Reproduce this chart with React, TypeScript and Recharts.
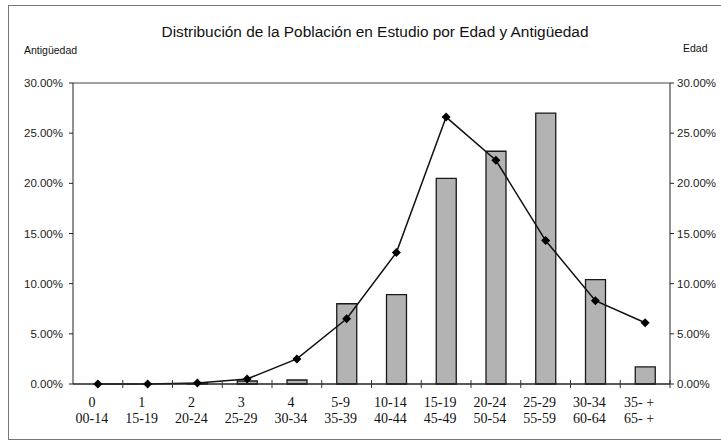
import React from "react";
import {
  ComposedChart,
  Bar,
  Line,
  XAxis,
  YAxis,
  ReferenceLine,
} from "recharts";

const ANTIGUEDAD_LABELS = ["0", "1", "2", "3", "4", "5-9", "10-14", "15-19", "20-24", "25-29", "30-34", "35- +"];
const EDAD_LABELS = ["00-14", "15-19", "20-24", "25-29", "30-34", "35-39", "40-44", "45-49", "50-54", "55-59", "60-64", "65- +"];
const ANTIGUEDAD_PCT = [0, 0, 0.05, 0.3, 0.4, 8.0, 8.9, 20.5, 23.2, 27.0, 10.4, 1.7];
const EDAD_PCT = [0, 0, 0.1, 0.5, 2.5, 6.5, 13.1, 26.6, 22.3, 14.3, 8.3, 6.1];
const Y_TICKS = [0, 5, 10, 15, 20, 25, 30];

const data = ANTIGUEDAD_LABELS.map((a, i) => ({
  key: `${a}|${EDAD_LABELS[i]}`,
  antiguedad: ANTIGUEDAD_PCT[i],
  edad: EDAD_PCT[i],
}));

const fmt = (v: number) => `${v.toFixed(2)}%`;

const Diamond = (props: any) => {
  const { cx, cy } = props;
  if (cx == null || cy == null) return null;
  const s = 4.5;
  return (
    <polygon
      points={`${cx},${cy - s} ${cx + s},${cy} ${cx},${cy + s} ${cx - s},${cy}`}
      fill="#000"
    />
  );
};

const CatTick = (props: any) => {
  const { x, y, payload } = props;
  const [top, bottom] = String(payload.value).split("|");
  const half = payload.offset ?? 25;
  return (
    <g>
      <line x1={x + half} x2={x + half} y1={y - 12} y2={y - 4} stroke="#333" strokeWidth={1} />
      <text
        x={x - 6}
        y={y + 15}
        textAnchor="middle"
        fontFamily="'Liberation Serif', serif"
        fontSize={14}
        fill="#111"
      >
        <tspan x={x - 6} dy={0}>{top}</tspan>
        <tspan x={x - 6} dy={16}>{bottom}</tspan>
      </text>
    </g>
  );
};

const tickStyle = { fontFamily: "'Liberation Sans', Arial, sans-serif", fontSize: 11.5, fill: "#222" };
const labelStyle: React.CSSProperties = {
  position: "absolute",
  top: 44,
  fontFamily: "'Liberation Sans', Arial, sans-serif",
  fontSize: 10.5,
  color: "#111",
};

export default function App() {
  return (
    <div style={{ position: "absolute", left: 0, top: 0, width: 721, height: 442, background: "#fff" }}>
      <div
        style={{
          position: "absolute",
          left: 8,
          top: 5,
          width: 720,
          height: 435,
          border: "1px solid #777",
          borderRight: "none",
          boxSizing: "border-box",
        }}
      />
      <div
        style={{
          position: "absolute",
          left: 0,
          width: 750,
          top: 23,
          textAlign: "center",
          fontFamily: "'Liberation Sans', Arial, sans-serif",
          fontSize: 15.4,
          color: "#111",
        }}
      >
        Distribución de la Población en Estudio por Edad y Antigüedad
      </div>
      <div style={{ ...labelStyle, left: 24 }}>Antigüedad</div>
      <div style={{ ...labelStyle, left: 683, top: 42 }}>Edad</div>
      <div style={{ position: "absolute", left: 0, top: 0 }}>
        <ComposedChart
          width={721}
          height={442}
          data={data}
          margin={{ top: 83, right: 0, bottom: 18, left: 0 }}
          barCategoryGap={0}
        >
          <XAxis
            dataKey="key"
            xAxisId="x"
            interval={0}
            tickLine={false}
            axisLine={{ stroke: "#222", strokeWidth: 1.5 }}
            tick={<CatTick />}
            height={40}
          />
          <YAxis
            yAxisId="left"
            orientation="left"
            width={73}
            domain={[0, 30]}
            ticks={Y_TICKS}
            tickFormatter={fmt}
            tick={tickStyle}
            tickSize={4}
            tickMargin={6}
            axisLine={{ stroke: "#222" }}
            tickLine={{ stroke: "#222" }}
          />
          <YAxis
            yAxisId="right"
            orientation="right"
            width={51}
            domain={[0, 30]}
            ticks={Y_TICKS}
            tickFormatter={fmt}
            tick={tickStyle}
            tickSize={4}
            tickMargin={3}
            axisLine={{ stroke: "#222" }}
            tickLine={{ stroke: "#222" }}
          />
          <ReferenceLine yAxisId="left" xAxisId="x" y={30} stroke="#444" strokeWidth={1} />
          <Bar
            xAxisId="x"
            yAxisId="left"
            dataKey="antiguedad"
            barSize={20}
            fill="#b3b3b3"
            stroke="#1a1a1a"
            strokeWidth={1.3}
            isAnimationActive={false}
          />
          <Line
            xAxisId="x"
            yAxisId="right"
            dataKey="edad"
            type="linear"
            stroke="#111"
            strokeWidth={1.5}
            dot={<Diamond />}
            activeDot={false}
            isAnimationActive={false}
          />
        </ComposedChart>
      </div>
    </div>
  );
}
